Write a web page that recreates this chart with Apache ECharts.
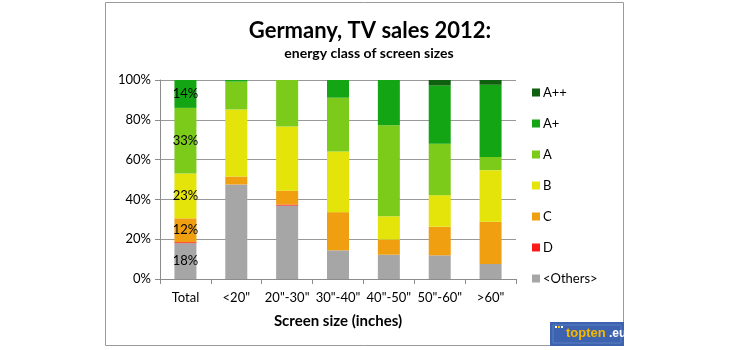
<!DOCTYPE html>
<html>
<head>
<meta charset="utf-8">
<script src="https://cdn.jsdelivr.net/npm/echarts@6/dist/echarts.min.js"></script>
<style>
  html, body { margin: 0; padding: 0; background: #fff; }
  #chart { width: 730px; height: 350px; }
</style>
</head>
<body>
<div id="chart"></div>
<script>
var categories = ["Total", "<20\"", "20\"-30\"", "30\"-40\"", "40\"-50\"", "50\"-60\"", ">60\""];

// shares in percent, bottom to top
var others = [18, 47.5, 36.9, 14.4, 12.2, 11.9, 7.6];
var classD = [0.5, 0, 0.5, 0, 0, 0, 0];
var classC = [12, 4, 7, 19.2, 7.6, 14.4, 21.2];
var classB = [22.5, 33.7, 32.2, 30.5, 11.7, 15.8, 25.9];
var classA = [33, 14, 23.4, 27, 45.8, 25.9, 6.6];
var classAp = [14, 0.8, 0, 9, 22.7, 29.2, 36.3];
var classApp = [0, 0, 0, 0, 0, 2.9, 2.4];

var yTicks = [0, 20, 40, 60, 80, 100];

var font = "Lato, 'Open Sans', sans-serif";

var chart = echarts.init(document.getElementById("chart"));

// only the Total column carries value labels
function withTotalLabel(arr){
  return arr.map(function(v, i){
    if(i == 0){
      return {
        value: v,
        label: {
          show: true,
          position: "inside",
          formatter: function(p){ return Math.round(p.value) + "%"; },
          color: "#000",
          fontSize: 13,
          fontFamily: font
        }
      };
    }
    return v;
  });
}

function makeSeries(name, data, color, labelled){
  return {
    name: name,
    type: "bar",
    stack: "all",
    barWidth: 22,
    itemStyle: { color: color },
    emphasis: { disabled: true },
    data: labelled ? withTotalLabel(data) : data
  };
}

var option = {
  animation: false,
  textStyle: { fontFamily: font },
  title: [
    {
      text: "Germany, TV sales 2012:",
      left: 365,
      top: 15,
      textAlign: "center",
      textStyle: { fontSize: 22, fontWeight: "bold", color: "#000", fontFamily: font }
    },
    {
      text: "energy class of screen sizes",
      left: 364,
      top: 41,
      textAlign: "center",
      textStyle: { fontSize: 14, fontWeight: "bold", color: "#000", fontFamily: font }
    }
  ],
  legend: {
    orient: "vertical",
    left: 527,
    top: 81,
    itemWidth: 8,
    itemHeight: 8,
    itemGap: 18,
    icon: "rect",
    data: ["A++", "A+", "A", "B", "C", "D", "<Others>"],
    textStyle: { fontSize: 13, color: "#000", fontFamily: font, padding: [0, 0, 0, -2] }
  },
  grid: {
    left: 160,
    right: 214,
    top: 80,
    bottom: 71
  },
  xAxis: {
    type: "category",
    data: categories,
    name: "Screen size (inches)",
    nameLocation: "middle",
    nameGap: 35,
    nameTextStyle: { fontSize: 15, fontWeight: "bold", color: "#000", fontFamily: font },
    axisLine: { lineStyle: { color: "#8c8c8c" } },
    axisTick: { show: true, length: 5, lineStyle: { color: "#8c8c8c" } },
    axisLabel: { fontSize: 13, color: "#000", margin: 12, fontFamily: font, interval: 0 }
  },
  yAxis: {
    type: "value",
    min: yTicks[0],
    max: yTicks[yTicks.length - 1],
    interval: 20,
    axisLine: { show: true, lineStyle: { color: "#8c8c8c" } },
    axisTick: { show: true, length: 5, lineStyle: { color: "#8c8c8c" } },
    splitLine: { lineStyle: { color: "#999" } },
    axisLabel: { fontSize: 13, color: "#000", margin: 9, fontFamily: font, formatter: "{value}%" }
  },
  series: [
    makeSeries("<Others>", others, "#a6a6a6", true),
    makeSeries("D", classD, "#ff1a1a", false),
    makeSeries("C", classC, "#ef9f10", true),
    makeSeries("B", classB, "#e4e30a", true),
    makeSeries("A", classA, "#7ccb1a", true),
    makeSeries("A+", classAp, "#14a514", true),
    makeSeries("A++", classApp, "#0e5f0e", false)
  ],
  graphic: [
    {
      type: "rect",
      shape: { x: 105.5, y: 2.5, width: 518, height: 343 },
      style: { fill: "none", stroke: "#9a9a9a", lineWidth: 1 },
      silent: true
    },
    {
      type: "group",
      left: 550,
      top: 322,
      children: [
        { type: "rect", shape: { x: 0, y: 0, width: 74, height: 24 }, style: { fill: "#3d62b0" } },
        { type: "rect", shape: { x: 3, y: 3, width: 68, height: 18 }, style: { fill: "none", stroke: "#5b7cc0", lineWidth: 1 } },
        { type: "rect", shape: { x: 5, y: 4, width: 2, height: 2 }, style: { fill: "#fff" } },
        { type: "rect", shape: { x: 8, y: 4, width: 2, height: 2 }, style: { fill: "#f2c200" } },
        { type: "rect", shape: { x: 11, y: 4, width: 2, height: 2 }, style: { fill: "#fff" } },
        { type: "text", style: { x: 16, y: 5, text: "topten", fill: "#f5b800", font: "bold 13px 'Liberation Sans', sans-serif" } },
        { type: "text", style: { x: 59, y: 6, text: ".eu", fill: "#fff", font: "bold 12px 'Liberation Sans', sans-serif" } }
      ]
    }
  ]
};

chart.setOption(option);
</script>
</body>
</html>
